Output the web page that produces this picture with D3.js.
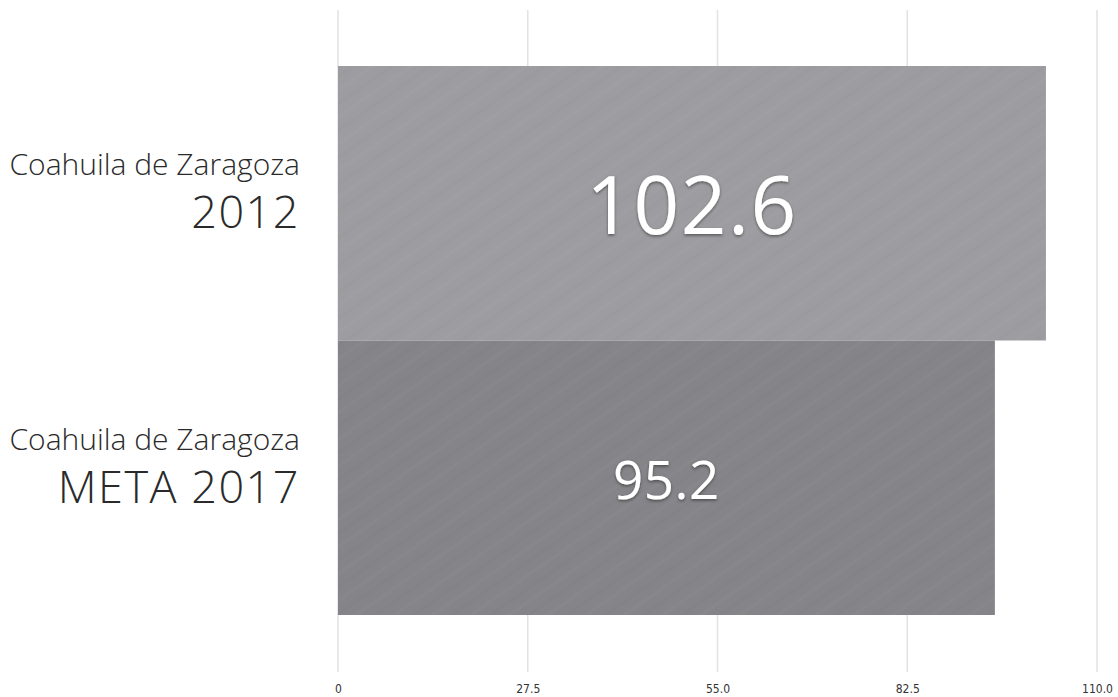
<!DOCTYPE html>
<html lang="es">
<head>
<meta charset="utf-8">
<title>Coahuila de Zaragoza</title>
<script src="https://d3js.org/d3.v7.min.js"></script>
<style>
  body { margin: 0; background: #fff; font-family: "Open Sans", "Lato", sans-serif; }
  .grid line { stroke: #e2e2e2; stroke-width: 1.5px; }
  .tick text { font-family: "DejaVu Sans Condensed", "Liberation Sans", sans-serif; font-size: 12px; fill: #333; }
  .lbl { fill: #2a2a2a; font-weight: 300; text-anchor: end; }
  .val { fill: #fff; text-anchor: middle; font-weight: 400; }
</style>
</head>
<body>
<script>
// data
var rowTop = ["Coahuila de Zaragoza", "Coahuila de Zaragoza"];
var rowBottom = ["2012", "META 2017"];
var values = [102.6, 95.2];
var barColors = ["#9d9da1", "#858589"];
var ticks = [0, 27.5, 55.0, 82.5, 110.0];

var width = 1118, height = 697;
var margin = {top: 66, right: 21, bottom: 82, left: 338};

var svg = d3.select("body").append("svg")
  .attr("width", width)
  .attr("height", height);

var defs = svg.append("defs");
// faint brushed texture over the bars
var pat = defs.append("pattern")
  .attr("id", "brush")
  .attr("patternUnits", "userSpaceOnUse")
  .attr("width", 22).attr("height", 22)
  .attr("patternTransform", "rotate(-35)");
pat.append("line").attr("x1", 0).attr("y1", 4).attr("x2", 22).attr("y2", 4)
  .attr("stroke", "#fff").attr("stroke-opacity", 0.025).attr("stroke-width", 3);
pat.append("line").attr("x1", 0).attr("y1", 15).attr("x2", 22).attr("y2", 15)
  .attr("stroke", "#000").attr("stroke-opacity", 0.015).attr("stroke-width", 3);

var shadow = defs.append("filter").attr("id", "shadow")
  .attr("x", "-10%").attr("y", "-10%").attr("width", "120%").attr("height", "130%");
shadow.append("feDropShadow").attr("dx", 0).attr("dy", 1.5).attr("stdDeviation", 1.5)
  .attr("flood-color", "#000").attr("flood-opacity", 0.45);

var x = d3.scaleLinear().domain([0, 110]).range([margin.left, width - margin.right]);
var y = d3.scaleBand().domain(d3.range(values.length))
  .range([margin.top, height - margin.bottom]).padding(0);

// gridlines
svg.append("g").attr("class", "grid")
  .selectAll("line").data(ticks).enter().append("line")
  .attr("x1", d => x(d)).attr("x2", d => x(d))
  .attr("y1", 10).attr("y2", 672);

// axis labels
svg.append("g")
  .attr("transform", "translate(0,681)")
  .call(d3.axisBottom(x).tickValues(ticks).tickSize(0)
    .tickFormat(d => d === 0 ? "0" : d3.format(".1f")(d)))
  .call(g => g.select(".domain").remove());

// bars
var bars = svg.append("g").selectAll("g").data(values).enter().append("g");
bars.append("rect")
  .attr("x", x(0)).attr("y", (d, i) => y(i))
  .attr("width", d => x(d) - x(0)).attr("height", y.bandwidth())
  .attr("fill", (d, i) => barColors[i]);
bars.append("rect")
  .attr("x", x(0)).attr("y", (d, i) => y(i))
  .attr("width", d => x(d) - x(0)).attr("height", y.bandwidth())
  .attr("fill", "url(#brush)");

// value labels
bars.append("text").attr("class", "val")
  .attr("x", d => (x(0) + x(d)) / 2)
  .attr("y", (d, i) => i === 0 ? y(i) + y.bandwidth() / 2 + 31 : y(i) + y.bandwidth() / 2 + 21)
  .attr("font-size", (d, i) => i === 0 ? 80 : 53)
  .attr("letter-spacing", (d, i) => i === 0 ? 1.5 : 0.5)
  .attr("filter", "url(#shadow)")
  .text(d => d3.format(".1f")(d));

// category labels
var lab = svg.append("g").selectAll("g").data(values).enter().append("g");
lab.append("text").attr("class", "lbl")
  .attr("x", 300)
  .attr("y", (d, i) => y(i) + y.bandwidth() / 2 - 28)
  .attr("font-size", 30)
  .text((d, i) => rowTop[i]);
lab.append("text").attr("class", "lbl")
  .attr("x", 300)
  .attr("y", (d, i) => y(i) + y.bandwidth() / 2 + 25)
  .attr("font-size", 45)
  .attr("letter-spacing", 1.5)
  .text((d, i) => rowBottom[i]);
</script>
</body>
</html>
